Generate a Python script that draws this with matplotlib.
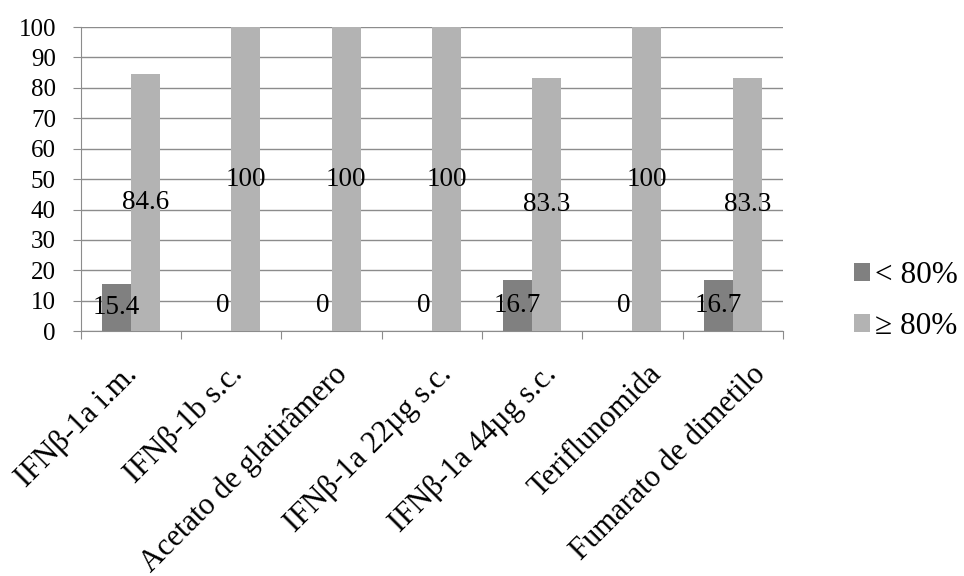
import matplotlib.pyplot as plt
import numpy as np

plt.rcParams['font.family'] = ['Liberation Serif', 'DejaVu Serif']

categories = ['IFNβ-1a i.m.', 'IFNβ-1b s.c.', 'Acetato de glatirâmero',
              'IFNβ-1a 22µg s.c.', 'IFNβ-1a 44µg s.c.', 'Teriflunomida',
              'Fumarato de dimetilo']
below80 = [15.4, 0, 0, 0, 16.7, 0, 16.7]
above80 = [84.6, 100, 100, 100, 83.3, 100, 83.3]
series_names = ['< 80%', '≥ 80%']
colors = ['#808080', '#b3b3b3']
grid_col = '#8c8c8c'

fig = plt.figure(figsize=(9.64, 5.76), dpi=100)
ax = fig.add_axes([0.084, 0.425, 0.728, 0.528])

x = np.arange(len(categories))
w = 0.29
b1 = ax.bar(x - w / 2, below80, w, color=colors[0], label=series_names[0], zorder=3)
b2 = ax.bar(x + w / 2, above80, w, color=colors[1], label=series_names[1], zorder=3)

# data labels centered in the bars (zeros sit a bit above the axis like Excel)
for xs, vals in [(x - w / 2, below80), (x + w / 2, above80)]:
    for xi, v in zip(xs, vals):
        y = v / 2 if v > 0 else 8.5
        xo = xi if v > 0 else xi + 0.06
        ax.text(xo, y, f'{v:g}', ha='center', va='center', fontsize=19.5, zorder=4)

ax.set_xlim(-0.5, len(categories) - 0.5)
ax.set_ylim(0, 100)
ax.set_yticks(np.arange(0, 101, 10))
ax.yaxis.grid(True, color=grid_col, linewidth=1, zorder=0)
ax.set_axisbelow(True)

ax.set_xticks(np.arange(-0.5, len(categories), 1))
ax.set_xticklabels([])
# the rotated labels drift slightly right in the original, so spread them a touch
ax.set_xticks(x * 1.045 + 0.02, minor=True)
ax.set_xticklabels(categories, minor=True, rotation=45, ha='right', va='center',
                   rotation_mode='anchor', fontsize=22)
ax.tick_params(axis='x', which='minor', length=0, pad=28)
ax.tick_params(axis='x', which='major', length=6, color=grid_col, direction='out')
ax.tick_params(axis='y', length=6, color=grid_col, labelsize=18, pad=12)

for s in ['top', 'right']:
    ax.spines[s].set_visible(False)
for s in ['left', 'bottom']:
    ax.spines[s].set_color(grid_col)

leg = fig.legend(handles=[b1, b2], loc='center left', bbox_to_anchor=(0.886, 0.477),
                 frameon=False, fontsize=22.5, handlelength=0.52, handleheight=0.52,
                 handletextpad=0.16, labelspacing=0.7, borderpad=0, borderaxespad=0)

fig.savefig('out.png', dpi=100)
